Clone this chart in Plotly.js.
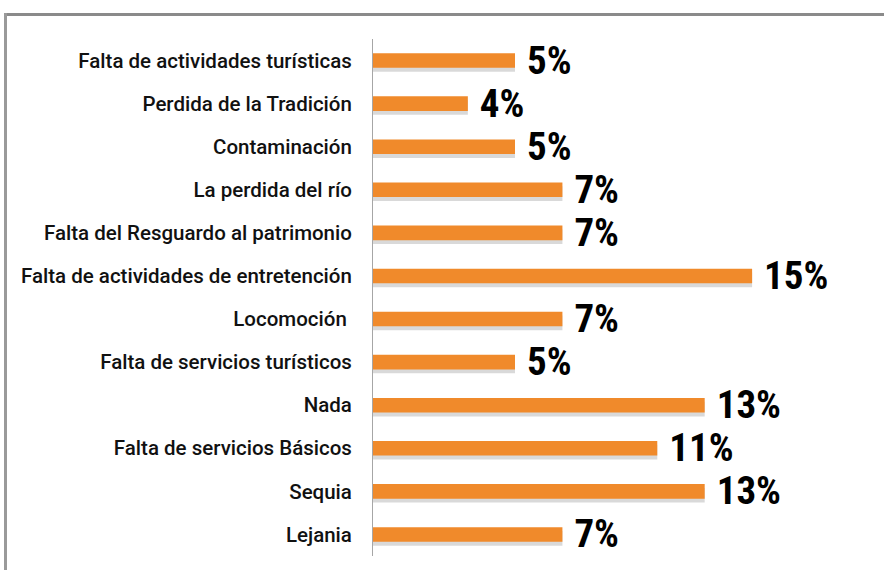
<!DOCTYPE html>
<html>
<head>
<meta charset="utf-8">
<script src="https://cdn.plot.ly/plotly-3.0.1.min.js"></script>
<style>
  html, body { margin: 0; padding: 0; background: #ffffff; }
  #chart { width: 884px; height: 570px; }
</style>
</head>
<body>
<div id="chart"></div>
<script>
// Categories, top to bottom as in the reference
const categories = [
  "Falta de actividades turísticas",
  "Perdida de la Tradición",
  "Contaminación",
  "La perdida del río",
  "Falta del Resguardo al patrimonio",
  "Falta de actividades de entretención",
  "Locomoción\u00a0",
  "Falta de servicios turísticos",
  "Nada",
  "Falta de servicios Básicos",
  "Sequia",
  "Lejania"
];

// Percentages (labels shown rounded)
const percentages = [5.45, 3.64, 5.45, 7.27, 7.27, 14.55, 7.27, 5.45, 12.73, 10.91, 12.73, 7.27];

const W = 884, H = 570;
const mL = 373, mR = 42, mT = 39, mB = 14;
const plotW = W - mL - mR, plotH = H - mT - mB;
const px2x = px => (px - mL) / plotW;
const py2y = py => (H - mB - py) / plotH;

const condFont = "'Roboto Condensed', 'Open Sans Condensed', 'DejaVu Sans Condensed', sans-serif";
const labelFont = "Roboto, 'Noto Sans', sans-serif";
const BW = 0.34;

const shadow = {
  type: 'bar',
  orientation: 'h',
  y: categories,
  x: percentages,
  width: BW,
  offset: -BW / 2 + 0.09,
  marker: { color: 'rgba(110,110,110,0.26)', line: { width: 0 } },
  hoverinfo: 'none'
};

const bars = {
  type: 'bar',
  orientation: 'h',
  y: categories,
  x: percentages,
  width: BW,
  offset: -BW / 2,
  marker: { color: '#F08A2B', line: { width: 0 } },
  texttemplate: '\u00a0%{x:.0f}%',
  textposition: 'outside',
  constraintext: 'none',
  cliponaxis: false,
  textfont: { family: condFont, size: 39, color: '#000000', weight: 'bold' },
  hoverinfo: 'none'
};

const layout = {
  width: W,
  height: H,
  margin: { l: mL, r: mR, t: mT, b: mB, pad: 0 },
  paper_bgcolor: '#ffffff',
  plot_bgcolor: '#ffffff',
  showlegend: false,
  barmode: 'overlay',
  xaxis: {
    range: [0, 18],
    visible: false,
    showgrid: false,
    zeroline: false,
    fixedrange: true
  },
  yaxis: {
    autorange: 'reversed',
    showline: true,
    linecolor: '#a6a6a6',
    linewidth: 1,
    ticks: '',
    showgrid: false,
    zeroline: false,
    automargin: false,
    ticklabelstandoff: 16,
    tickfont: { family: labelFont, size: 20.5, color: '#111111', weight: 500 },
    fixedrange: true
  },
  shapes: [
    { type: 'line', xref: 'paper', yref: 'paper',
      x0: px2x(4), x1: px2x(884), y0: py2y(14.5), y1: py2y(14.5),
      line: { color: '#8a8a8a', width: 3 } },
    { type: 'line', xref: 'paper', yref: 'paper',
      x0: px2x(5.5), x1: px2x(5.5), y0: py2y(13), y1: py2y(570),
      line: { color: '#9a9a9a', width: 3 } }
  ]
};

Plotly.newPlot('chart', [shadow, bars], layout, { displayModeBar: false, staticPlot: true });
</script>
</body>
</html>
